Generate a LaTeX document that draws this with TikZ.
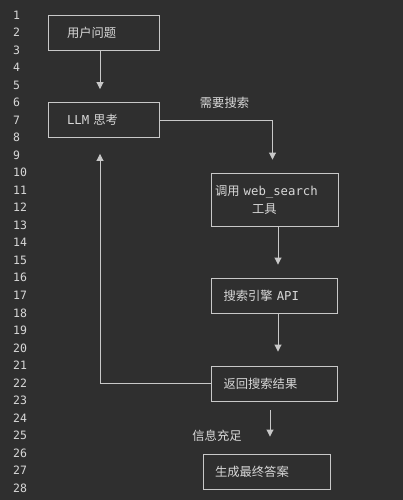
\documentclass[tikz,border=0pt]{standalone}
\usepackage{fontspec}
\setmainfont{DejaVu Sans Mono}
\newfontfamily\cjk{Noto Sans CJK SC}
\usepackage{xcolor}
\usetikzlibrary{arrows.meta}

\definecolor{bgdark}{HTML}{2F2F2F}
\definecolor{inkgrey}{HTML}{D8D8D8}
\definecolor{rulegrey}{HTML}{C8C8C8}

\tikzset{
	box/.style={draw=rulegrey, line width=0.9pt, rectangle, text=inkgrey, align=left, minimum height=35pt, inner ysep=0pt, font=\fontsize{12.3}{18}\selectfont},
	flow/.style={draw=rulegrey, line width=0.9pt, -{Triangle[width=7pt,length=7pt]}},
	lbl/.style={text=inkgrey, inner sep=0pt, font=\fontsize{12.3}{18}\selectfont\cjk},
	lineno/.style={text=inkgrey, anchor=west, inner sep=0pt, font=\fontsize{11.5}{14}\selectfont}
}

\begin{document}
\begin{tikzpicture}[x=1pt, y=-1pt]
	\fill[bgdark] (0,0) rectangle (403,500);
	\useasboundingbox (0,0) rectangle (403,500);
	
	% line numbers
	\foreach \n in {1,...,28}
		\node[lineno] (L\n) at (13, {15+(\n-1)*17.52}) {\n};
	
	\node[box, text width=73pt, inner xsep=19pt] (Q) at (103.5,32.5) {{\cjk 用户问题}};
	\node[box, text width=73pt, inner xsep=19pt, below of=Q, node distance=87.5pt] (LLM) {LLM {\cjk 思考}};
	
	\node[box, text width=119pt, inner xsep=4pt, minimum height=53pt] (Tool) at (274.5,199.5) {{\cjk 调用} web\_search\\\hspace*{37pt}{\cjk 工具}};
	\node[box, text width=102pt, inner xsep=12pt, below of=Tool, node distance=96pt] (API) {{\cjk 搜索引擎} API};
	\node[box, text width=102pt, inner xsep=12pt, below of=API, node distance=88pt] (Ret) {{\cjk 返回搜索结果}};
	
	\node[box, text width=103pt, inner xsep=12pt] (Ans) at (266.5,471.5) {{\cjk 生成最终答案}};
	
	\node[lbl] (NeedSearch) at (224.5,103) {需要搜索};
	\node[lbl] (Enough) at (217,436) {信息充足};
	
	\draw[flow, shorten >=13pt] ([xshift=-3.5pt]Q.south) -- ([xshift=-3.5pt]LLM.north);
	\draw[flow, shorten >=13pt] (LLM.east) -| ([xshift=-2pt]Tool.north);
	\draw[flow, shorten >=13pt] ([xshift=3.5pt]Tool.south) -- ([xshift=3.5pt]API.north);
	\draw[flow, shorten >=14pt] ([xshift=3.5pt]API.south) -- ([xshift=3.5pt]Ret.north);
	\draw[flow, shorten >=16pt] (Ret.west) -| ([xshift=-3.5pt]LLM.south);
	\draw[flow, shorten <=9pt, shorten >=17pt] ([xshift=-4.5pt]Ret.south) -- ([xshift=-4.5pt]Ret.south |- Ans.north);
\end{tikzpicture}
\end{document}
